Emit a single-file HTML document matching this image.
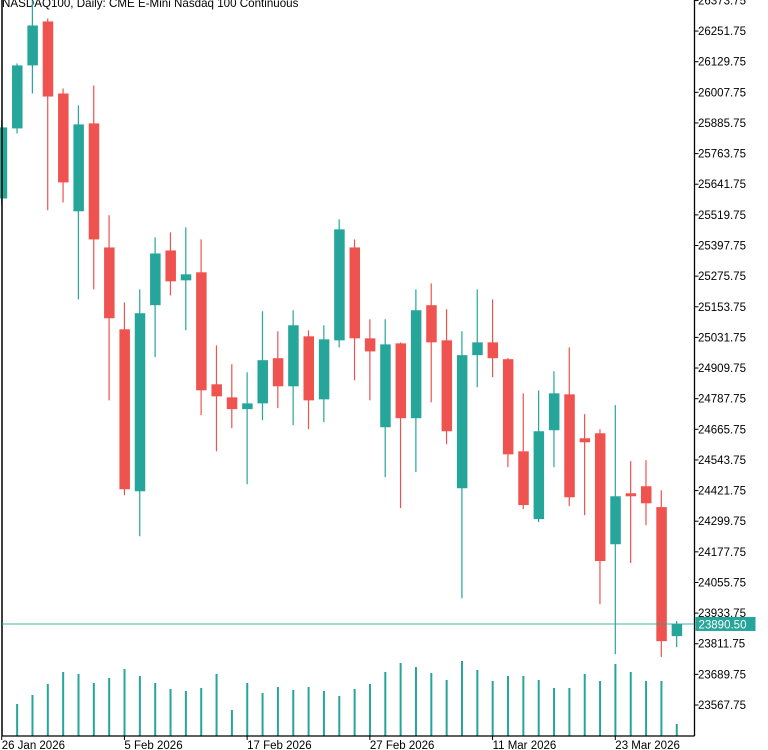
<!DOCTYPE html>
<html><head><meta charset="utf-8"><style>
html,body{margin:0;padding:0;background:#fff;width:768px;height:750px;overflow:hidden}
svg{display:block;font-family:"Liberation Sans","DejaVu Sans",sans-serif}
</style></head><body>
<svg id="chart" width="768" height="750" viewBox="0 0 768 750" xmlns="http://www.w3.org/2000/svg">
<text x="2" y="7" font-size="11.6" fill="#000">NASDAQ100, Daily:  CME E-Mini Nasdaq 100 Continuous</text>
<g id="volumes"></g>
<g id="candles"></g>
<g id="axes"></g>
</svg>
<script>
const dates = ["26 Jan 2026","27 Jan","28 Jan","29 Jan","30 Jan","2 Feb","3 Feb","4 Feb","5 Feb 2026","6 Feb","9 Feb","10 Feb","11 Feb","12 Feb","13 Feb","16 Feb","17 Feb 2026","18 Feb","19 Feb","20 Feb","23 Feb","24 Feb","25 Feb","26 Feb","27 Feb 2026","2 Mar","3 Mar","4 Mar","5 Mar","6 Mar","9 Mar","10 Mar","11 Mar 2026","12 Mar","13 Mar","16 Mar","17 Mar","18 Mar","19 Mar","20 Mar","23 Mar 2026","24 Mar","25 Mar","26 Mar","27 Mar"];
const opens  = [25585,25864,26115,26290,26003,25534,25884,25390,25064,24419,25160,25378,25259,25291,24845,24793,24746,24769,24949,24837,25036,24785,25020,25390,25028,24674,25008,24710,25160,25020,24431,24961,25012,24945,24578,24308,24662,24805,24630,24650,24208,24411,24439,24356,23842];
const highs  = [25896,26123,26373,26302,26023,25956,26035,25518,25171,25223,25430,25450,25470,25422,25000,24925,24893,25136,25056,25140,25060,25080,25502,25422,25104,25104,25012,25223,25247,25144,25056,25223,25183,24950,24809,24821,24897,24992,24726,24666,24762,24539,24543,24423,23902];
const lows   = [25558,25844,26003,25538,25569,25183,25223,24781,24403,24240,24953,25199,25060,24722,24578,24670,24447,24702,24750,24682,24666,24694,24992,24861,24781,24475,24352,24495,24773,24606,23993,24833,24873,24515,24348,24296,24515,24360,24324,23969,23770,24133,24284,23759,23798];
const closes = [25868,26115,26274,25991,25649,25880,25422,25108,24427,25128,25366,25255,25283,24821,24797,24746,24769,24941,24837,25080,24781,25024,25462,25028,24976,25004,24710,25140,25012,24658,24961,25012,24949,24566,24364,24658,24809,24395,24614,24141,24399,24399,24371,23822,23890.5];
const volumes = [0,160,205,260,320,310,265,290,335,300,265,235,225,240,310,130,265,215,245,230,245,225,200,235,260,320,365,345,315,280,375,330,275,300,300,280,240,240,310,275,360,320,275,275,60];
const priceTicks = [23567.75,23689.75,23811.75,23933.75,24055.75,24177.75,24299.75,24421.75,24543.75,24665.75,24787.75,24909.75,25031.75,25153.75,25275.75,25397.75,25519.75,25641.75,25763.75,25885.75,26007.75,26129.75,26251.75,26373.75];
const dateTickIdx = [0,8,16,24,32,40];
const lastPrice = 23890.5;

const NS="http://www.w3.org/2000/svg";
const G="#26a69a", R="#ef5350";
const AX=694.5, BOT=736;
function xS(i){return 1.7+15.34*i;}
function yS(v){return 429.3-(v-24665.75)*0.2511;}
function vS(v){return BOT-v*0.2;}
function mk(tag,attrs,parent){const e=document.createElementNS(NS,tag);for(const k in attrs)e.setAttribute(k,attrs[k]);parent.appendChild(e);return e;}
const cg=document.getElementById('candles'), vg=document.getElementById('volumes'), ag=document.getElementById('axes');

for(let i=0;i<opens.length;i++){
  const o=opens[i],c=closes[i],h=highs[i],l=lows[i];
  const col=c>=o?G:R, x=xS(i);
  const g=mk('g',{},cg);
  
  
  mk('line',{x1:x,x2:x,y1:yS(h),y2:yS(l),stroke:col,'stroke-width':1.2},g);
  const t=yS(Math.max(o,c)), b=yS(Math.min(o,c));
  mk('rect',{x:x-5,y:t,width:10.5,height:Math.max(b-t,2),fill:col},g);
  if(volumes[i]>0){
    const vb=mk('rect',{x:x-0.9,y:vS(volumes[i]),width:2,height:BOT-vS(volumes[i]),fill:G},vg);
    
    
  }
}
let e=mk('line',{x1:2,x2:2,y1:0,y2:BOT,stroke:'#000','stroke-width':1.5},ag);

e=mk('line',{x1:AX,x2:AX,y1:0,y2:BOT,stroke:'#000','stroke-width':1.3},ag);

e=mk('line',{x1:2,x2:AX,y1:BOT,y2:BOT,stroke:'#000','stroke-width':1.3},ag);

priceTicks.forEach(p=>{
  const y=yS(p);
  mk('line',{x1:AX,x2:AX+4,y1:y,y2:y,stroke:'#000'},ag);
  const t=mk('text',{x:AX+3.5,y:y+4,'font-size':11.5,fill:'#000'},ag);
  
  
  t.textContent=p.toFixed(2);
});
dateTickIdx.forEach(i=>{
  const x=xS(i);
  mk('line',{x1:x,x2:x,y1:BOT,y2:BOT+4,stroke:'#000'},ag);
  const t=mk('text',{x:x,y:749,'font-size':11.5,fill:'#000'},ag);
  
  
  t.textContent=dates[i];
});
const ly=yS(lastPrice);
e=mk('line',{x1:2,x2:AX,y1:ly,y2:ly,stroke:G,'stroke-width':1,opacity:0.85},ag);

e=mk('rect',{x:AX+1,y:ly-7,width:60,height:14,fill:G},ag);

e=mk('text',{x:AX+4,y:ly+4.5,'font-size':11.5,fill:'#fff'},ag);

e.textContent=lastPrice.toFixed(2);
</script>
</body></html>
